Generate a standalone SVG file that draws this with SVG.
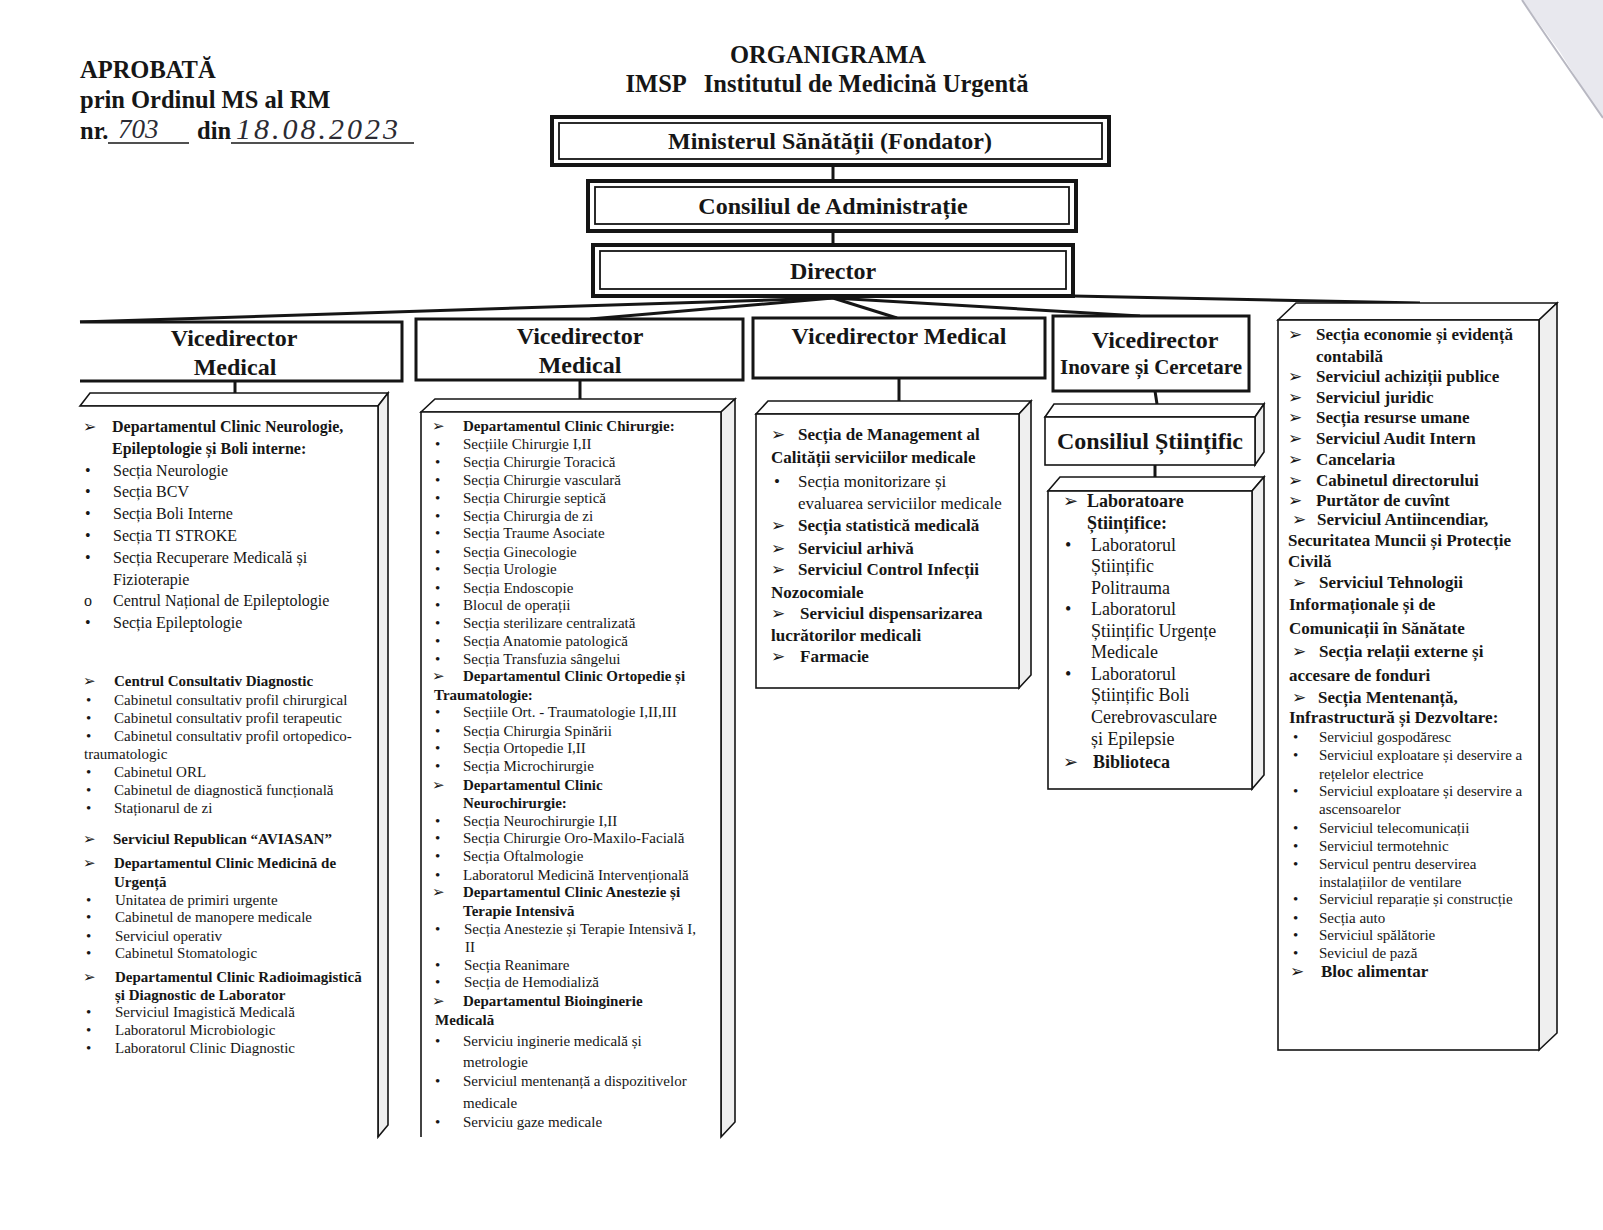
<svg xmlns="http://www.w3.org/2000/svg" width="1603" height="1230" viewBox="0 0 1603 1230">
<style>
text{font-family:"Liberation Serif","Times New Roman",serif;fill:#161616}
.b{font-weight:bold}
.ar{font-family:"DejaVu Sans",sans-serif}
.hw{font-style:italic;font-family:"Liberation Serif",serif;fill:#2b2b33}
.ln{stroke:#151515;stroke-width:3;fill:none}
.frame{fill:#fff;stroke:#151515;stroke-width:4}
.inner{fill:none;stroke:#151515;stroke-width:1.8}
.hdr{fill:#fff;stroke:#151515;stroke-width:3}
.face{fill:#fff;stroke:#151515;stroke-width:1.6}
.side{fill:#efefef;stroke:#151515;stroke-width:1.6}
.c1 text{font-size:16px}
.c1g text{font-size:15px}
.c2 text{font-size:15px}
.c3 text{font-size:17px}
.c4 text{font-size:18px}
.c5 text{font-size:17px}
.c5r text{font-size:15px}
.ht{font-size:24px;font-weight:bold}
</style>
<rect width="1603" height="1230" fill="#fff"/>
<polygon points="1522,0 1603,0 1603,118 1585,92 1560,52" fill="#e8e8ee"/>
<path d="M1522,0 C1545,35 1570,70 1603,118" fill="none" stroke="#b8b8c2" stroke-width="2"/>

<g id="approval">
<text x="80" y="78" class="b" font-size="24.5">APROBATĂ</text>
<text x="80" y="108" class="b" font-size="24.5">prin Ordinul MS al RM</text>
<text x="80" y="139" class="b" font-size="24.5">nr.</text>
<line x1="108" y1="143" x2="189" y2="143" stroke="#161616" stroke-width="1.5"/>
<text x="118" y="138" class="hw" font-size="27">703</text>
<text x="197" y="139" class="b" font-size="24.5">din</text>
<line x1="231" y1="143" x2="414" y2="143" stroke="#161616" stroke-width="1.5"/>
<text x="236" y="139" class="hw" font-size="30" letter-spacing="3">18.08.2023</text>
</g>

<g id="title">
<text x="828" y="63" class="b" font-size="24.5" text-anchor="middle">ORGANIGRAMA</text>
<text x="827" y="92" class="b" font-size="24.5" text-anchor="middle" xml:space="preserve">IMSP   Institutul de Medicină Urgentă</text>
</g>

<g id="connectors">
<line class="ln" x1="833" y1="166" x2="833" y2="180"/>
<line class="ln" x1="833" y1="231" x2="833" y2="245"/>
<line class="ln" x1="833" y1="298" x2="80" y2="322"/>
<line class="ln" x1="833" y1="298" x2="590" y2="319"/>
<line class="ln" x1="833" y1="298" x2="897" y2="318"/>
<line class="ln" x1="833" y1="298" x2="1140" y2="316"/>
<line class="ln" x1="1073" y1="296" x2="1420" y2="303"/>
<line class="ln" x1="235" y1="381" x2="235" y2="394"/>
<line class="ln" x1="580" y1="380" x2="580" y2="400"/>
<line class="ln" x1="899" y1="378" x2="899" y2="401"/>
<line class="ln" x1="1155" y1="391" x2="1157" y2="404"/>
<line class="ln" x1="1155" y1="465" x2="1155" y2="478"/>
</g>

<g id="n-ministerul">
<rect class="frame" x="552" y="117" width="557" height="48"/>
<rect class="inner" x="559" y="123" width="543" height="36"/>
<text x="830" y="149" class="ht" font-size="25" text-anchor="middle">Ministerul Sănătății (Fondator)</text>
</g>
<g id="n-consiliul-adm">
<rect class="frame" x="588" y="181" width="488" height="50"/>
<rect class="inner" x="595" y="187" width="474" height="37"/>
<text x="833" y="214" class="ht" font-size="25" text-anchor="middle">Consiliul de Administrație</text>
</g>
<g id="n-director">
<rect class="frame" x="593" y="245" width="480" height="51"/>
<rect class="inner" x="600" y="251" width="466" height="38"/>
<text x="833" y="279" class="ht" font-size="25" text-anchor="middle">Director</text>
</g>

<g id="n-vd1">
<path class="hdr" d="M80,322 H402 V381 H80"/>
<text x="234" y="346" class="ht" text-anchor="middle">Vicedirector</text>
<text x="235" y="375" class="ht" text-anchor="middle">Medical</text>
</g>
<g id="n-vd2">
<rect class="hdr" x="416" y="319" width="327" height="61"/>
<text x="580" y="344" class="ht" text-anchor="middle">Vicedirector</text>
<text x="580" y="373" class="ht" text-anchor="middle">Medical</text>
</g>
<g id="n-vd3">
<rect class="hdr" x="753" y="318" width="292" height="60"/>
<text x="899" y="344" class="ht" text-anchor="middle">Vicedirector Medical</text>
</g>
<g id="n-vd4">
<rect class="hdr" x="1053" y="316" width="196" height="75" stroke-width="4"/>
<text x="1155" y="348" class="ht" text-anchor="middle">Vicedirector</text>
<text x="1151" y="374" class="b" font-size="21" text-anchor="middle">Inovare și Cercetare</text>
</g>

<g id="n-box1" class="c1">
<path class="face" d="M80,406 L90,393 H388 L378,406 Z"/>
<path class="side" d="M378,406 L388,393 V1125 L378,1137 Z"/>
<path class="face" d="M80,406 H378 V1137" fill="none"/>
<text x="83" y="432" class="ar" font-size="12">➢</text><text x="112" y="432" class="b">Departamentul Clinic Neurologie,</text>
<text x="112" y="454" class="b">Epileptologie și Boli interne:</text>
<text x="85" y="476">•</text><text x="113" y="476">Secția Neurologie</text>
<text x="85" y="497">•</text><text x="113" y="497">Secția BCV</text>
<text x="85" y="519">•</text><text x="113" y="519">Secția Boli Interne</text>
<text x="85" y="541">•</text><text x="113" y="541">Secția TI STROKE</text>
<text x="85" y="563">•</text><text x="113" y="563">Secția Recuperare Medicală și</text>
<text x="113" y="585">Fizioterapie</text>
<text x="84" y="606">o</text><text x="113" y="606">Centrul Național de Epileptologie</text>
<text x="85" y="628">•</text><text x="113" y="628">Secția Epileptologie</text>
<g class="c1g">
<text x="83" y="686" class="ar" font-size="12">➢</text><text x="114" y="686" class="b">Centrul Consultativ Diagnostic</text>
<text x="86" y="705">•</text><text x="114" y="705">Cabinetul consultativ profil chirurgical</text>
<text x="86" y="723">•</text><text x="114" y="723">Cabinetul consultativ profil terapeutic</text>
<text x="86" y="741">•</text><text x="114" y="741">Cabinetul consultativ profil ortopedico-</text>
<text x="84" y="759">traumatologic</text>
<text x="86" y="777">•</text><text x="114" y="777">Cabinetul ORL</text>
<text x="86" y="795">•</text><text x="114" y="795">Cabinetul de diagnostică funcțională</text>
<text x="86" y="813">•</text><text x="114" y="813">Staționarul de zi</text>
<text x="83" y="844" class="ar" font-size="12">➢</text><text x="113" y="844" class="b">Serviciul Republican “AVIASAN”</text>
<text x="83" y="868" class="ar" font-size="12">➢</text><text x="114" y="868" class="b">Departamentul Clinic  Medicină de</text>
<text x="114" y="887" class="b">Urgență</text>
<text x="86" y="905">•</text><text x="115" y="905">Unitatea de primiri urgente</text>
<text x="86" y="922">•</text><text x="115" y="922">Cabinetul de manopere medicale</text>
<text x="86" y="941">•</text><text x="115" y="941">Serviciul operativ</text>
<text x="86" y="958">•</text><text x="115" y="958">Cabinetul  Stomatologic</text>
<text x="83" y="982" class="ar" font-size="12">➢</text><text x="115" y="982" class="b">Departamentul Clinic Radioimagistică</text>
<text x="115" y="1000" class="b">și  Diagnostic de Laborator</text>
<text x="86" y="1017">•</text><text x="115" y="1017">Serviciul Imagistică Medicală</text>
<text x="86" y="1035">•</text><text x="115" y="1035">Laboratorul Microbiologic</text>
<text x="86" y="1053">•</text><text x="115" y="1053">Laboratorul Clinic Diagnostic</text>
</g>
</g>

<g id="n-box2" class="c2">
<path class="face" d="M421,412 L435,399 H735 L721,412 Z"/>
<path class="side" d="M721,412 L735,399 V1122 L721,1137 Z"/>
<path class="face" d="M421,1137 V412 H721 V1137" fill="none"/>
<text x="432" y="431" class="ar" font-size="12">➢</text><text x="463" y="431" class="b">Departamentul Clinic Chirurgie:</text>
<text x="435" y="449">•</text><text x="463" y="449">Secțiile Chirurgie I,II</text>
<text x="435" y="466.5">•</text><text x="463" y="466.5">Secția Chirurgie Toracică</text>
<text x="435" y="485">•</text><text x="463" y="485">Secția Chirurgie vasculară</text>
<text x="435" y="502.5">•</text><text x="463" y="502.5">Secția Chirurgie septică</text>
<text x="435" y="520.5">•</text><text x="463" y="520.5">Secția Chirurgia de zi</text>
<text x="435" y="538">•</text><text x="463" y="538">Secția Traume Asociate</text>
<text x="435" y="556.5">•</text><text x="463" y="556.5">Secția Ginecologie</text>
<text x="435" y="574">•</text><text x="463" y="574">Secția Urologie</text>
<text x="435" y="592.5">•</text><text x="463" y="592.5">Secția Endoscopie</text>
<text x="435" y="609.5">•</text><text x="463" y="609.5">Blocul de operații</text>
<text x="435" y="628">•</text><text x="463" y="628">Secția sterilizare centralizată</text>
<text x="435" y="645.5">•</text><text x="463" y="645.5">Secția Anatomie patologică</text>
<text x="435" y="663.5">•</text><text x="463" y="663.5">Secția Transfuzia sângelui</text>
<text x="432" y="681" class="ar" font-size="12">➢</text><text x="463" y="681" class="b">Departamentul Clinic Ortopedie și</text>
<text x="434" y="699.5" class="b">Traumatologie:</text>
<text x="435" y="717">•</text><text x="463" y="717">Secțiile Ort. - Traumatologie I,II,III</text>
<text x="435" y="735.5">•</text><text x="463" y="735.5">Secția Chirurgia Spinării</text>
<text x="435" y="752.5">•</text><text x="463" y="752.5">Secția Ortopedie I,II</text>
<text x="435" y="771">•</text><text x="463" y="771">Secția Microchirurgie</text>
<text x="432" y="789.5" class="ar" font-size="12">➢</text><text x="463" y="789.5" class="b">Departamentul Clinic</text>
<text x="463" y="808" class="b">Neurochirurgie:</text>
<text x="435" y="825.5">•</text><text x="463" y="825.5">Secția  Neurochirurgie I,II</text>
<text x="435" y="842.5">•</text><text x="463" y="842.5">Secția Chirurgie Oro-Maxilo-Facială</text>
<text x="435" y="861">•</text><text x="463" y="861">Secția Oftalmologie</text>
<text x="435" y="879.5">•</text><text x="463" y="879.5">Laboratorul Medicină Intervențională</text>
<text x="432" y="897" class="ar" font-size="12">➢</text><text x="463" y="897" class="b">Departamentul Clinic Anestezie și</text>
<text x="463" y="915.5" class="b">Terapie Intensivă</text>
<text x="435" y="933.5">•</text><text x="464" y="933.5">Secția Anestezie și Terapie Intensivă I,</text>
<text x="465" y="952">II</text>
<text x="435" y="969.5">•</text><text x="464" y="969.5">Secția Reanimare</text>
<text x="435" y="987">•</text><text x="464" y="987">Secția de Hemodializă</text>
<text x="432" y="1005.5" class="ar" font-size="12">➢</text><text x="463" y="1005.5" class="b">Departamentul Bioinginerie</text>
<text x="435" y="1024.5" class="b">Medicală</text>
<text x="435" y="1046">•</text><text x="463" y="1046">Serviciu inginerie medicală și</text>
<text x="463" y="1066.5">metrologie</text>
<text x="435" y="1086">•</text><text x="463" y="1086">Serviciul mentenanță a dispozitivelor</text>
<text x="463" y="1107.5">medicale</text>
<text x="435" y="1127">•</text><text x="463" y="1127">Serviciu gaze medicale</text>
</g>

<g id="n-box3" class="c3">
<path class="face" d="M756,414 L768,401 H1031 L1019,414 Z"/>
<path class="side" d="M1019,414 L1031,401 V675 L1019,688 Z"/>
<rect class="face" x="756" y="414" width="263" height="274"/>
<text x="771" y="439.5" class="ar" font-size="13">➢</text><text x="798" y="439.5" class="b">Secția de Management al</text>
<text x="771" y="463" class="b" font-size="16.5">Calității serviciilor medicale</text>
<text x="774" y="486.5">•</text><text x="798" y="486.5">Secția monitorizare și</text>
<text x="798" y="509">evaluarea serviciilor medicale</text>
<text x="771" y="531" class="ar" font-size="13">➢</text><text x="798" y="531" class="b" font-size="16">Secția statistică medicală</text>
<text x="771" y="553.5" class="ar" font-size="13">➢</text><text x="798" y="553.5" class="b" font-size="16">Serviciul arhivă</text>
<text x="771" y="575" class="ar" font-size="13">➢</text><text x="798" y="575" class="b" font-size="16">Serviciul Control Infecții</text>
<text x="771" y="597.5" class="b" font-size="16">Nozocomiale</text>
<text x="771" y="619" class="ar" font-size="13">➢</text><text x="800" y="619" class="b" font-size="16">Serviciul dispensarizarea</text>
<text x="771" y="640.5" class="b" font-size="16">lucrătorilor medicali</text>
<text x="771" y="661.5" class="ar" font-size="13">➢</text><text x="800" y="661.5" class="b" font-size="16">Farmacie</text>
</g>

<g id="n-consiliul-stiintific">
<path class="face" d="M1045,417 L1054,404 H1264 L1255,417 Z"/>
<path class="side" d="M1255,417 L1264,404 V452 L1255,465 Z"/>
<rect class="face" x="1045" y="417" width="210" height="48" stroke-width="2.5"/>
<text x="1150" y="449" class="ht" text-anchor="middle">Consiliul Științific</text>
</g>

<g id="n-box4" class="c4">
<path class="face" d="M1048,491 L1060,477 H1264 L1252,491 Z"/>
<path class="side" d="M1252,491 L1264,477 V775 L1252,789 Z"/>
<rect class="face" x="1048" y="491" width="204" height="298"/>
<text x="1063" y="507" class="ar" font-size="13">➢</text><text x="1087" y="507" class="b" font-size="17.5">Laboratoare</text>
<text x="1087" y="528.5" class="b" font-size="17.5">Științifice:</text>
<text x="1065" y="551">•</text><text x="1091" y="551">Laboratorul</text>
<text x="1091" y="572">Științific</text>
<text x="1091" y="594">Politrauma</text>
<text x="1065" y="615">•</text><text x="1091" y="615">Laboratorul</text>
<text x="1091" y="637">Științific Urgențe</text>
<text x="1091" y="658">Medicale</text>
<text x="1065" y="680">•</text><text x="1091" y="680">Laboratorul</text>
<text x="1091" y="701">Științific Boli</text>
<text x="1091" y="722.5">Cerebrovasculare</text>
<text x="1091" y="745">și  Epilepsie</text>
<text x="1063" y="767.5" class="ar" font-size="13">➢</text><text x="1093" y="767.5" class="b" font-size="17.5">Biblioteca</text>
</g>

<g id="n-box5" class="c5">
<path class="face" d="M1278,320 L1296,303 H1557 L1539,320 Z"/>
<path class="side" d="M1539,320 L1557,303 V1033 L1539,1050 Z"/>
<rect class="face" x="1278" y="320" width="261" height="730"/>
<text x="1288" y="340" class="ar" font-size="13">➢</text><text x="1316" y="340" class="b">Secția economie și evidență</text>
<text x="1316" y="362" class="b">contabilă</text>
<text x="1288" y="382" class="ar" font-size="13">➢</text><text x="1316" y="382" class="b">Serviciul achiziții publice</text>
<text x="1288" y="403" class="ar" font-size="13">➢</text><text x="1316" y="403" class="b">Serviciul  juridic</text>
<text x="1288" y="423" class="ar" font-size="13">➢</text><text x="1316" y="423" class="b">Secția resurse umane</text>
<text x="1288" y="443.5" class="ar" font-size="13">➢</text><text x="1316" y="443.5" class="b">Serviciul Audit Intern</text>
<text x="1288" y="465" class="ar" font-size="13">➢</text><text x="1316" y="465" class="b">Cancelaria</text>
<text x="1288" y="485.5" class="ar" font-size="13">➢</text><text x="1316" y="485.5" class="b">Cabinetul directorului</text>
<text x="1288" y="506" class="ar" font-size="13">➢</text><text x="1316" y="506" class="b">Purtător de cuvînt</text>
<text x="1292" y="525" class="ar" font-size="13">➢</text><text x="1317" y="525" class="b">Serviciul Antiincendiar,</text>
<text x="1288" y="546" class="b">Securitatea Muncii și Protecție</text>
<text x="1288" y="567" class="b">Civilă</text>
<text x="1292" y="587.5" class="ar" font-size="13">➢</text><text x="1319" y="587.5" class="b">Serviciul Tehnologii</text>
<text x="1289" y="610" class="b">Informaționale și de</text>
<text x="1289" y="633.5" class="b">Comunicații în Sănătate</text>
<text x="1292" y="657" class="ar" font-size="13">➢</text><text x="1319" y="657" class="b">Secția relații externe și</text>
<text x="1289" y="680.5" class="b">accesare de fonduri</text>
<text x="1292" y="703" class="ar" font-size="13">➢</text><text x="1318" y="703" class="b">Secția Mentenanță,</text>
<text x="1289" y="722.5" class="b">Infrastructură și Dezvoltare:</text>
<g class="c5r">
<text x="1293" y="741.5">•</text><text x="1319" y="741.5">Serviciul gospodăresc</text>
<text x="1293" y="760">•</text><text x="1319" y="760">Serviciul exploatare și deservire a</text>
<text x="1319" y="778.5">rețelelor electrice</text>
<text x="1293" y="795.5">•</text><text x="1319" y="795.5">Serviciul exploatare și deservire a</text>
<text x="1319" y="814">ascensoarelor</text>
<text x="1293" y="832.5">•</text><text x="1319" y="832.5">Serviciul telecomunicații</text>
<text x="1293" y="851">•</text><text x="1319" y="851">Serviciul termotehnic</text>
<text x="1293" y="868.5">•</text><text x="1319" y="868.5">Servicul pentru deservirea</text>
<text x="1319" y="886.5">instalațiilor de ventilare</text>
<text x="1293" y="904">•</text><text x="1319" y="904">Serviciul reparație și construcție</text>
<text x="1293" y="922.5">•</text><text x="1319" y="922.5">Secția auto</text>
<text x="1293" y="940">•</text><text x="1319" y="940">Serviciul spălătorie</text>
<text x="1293" y="958">•</text><text x="1319" y="958">Seviciul de pază</text>
</g>
<text x="1290" y="977" class="ar" font-size="13">➢</text><text x="1321" y="977" class="b">Bloc alimentar</text>
</g>
</svg>
